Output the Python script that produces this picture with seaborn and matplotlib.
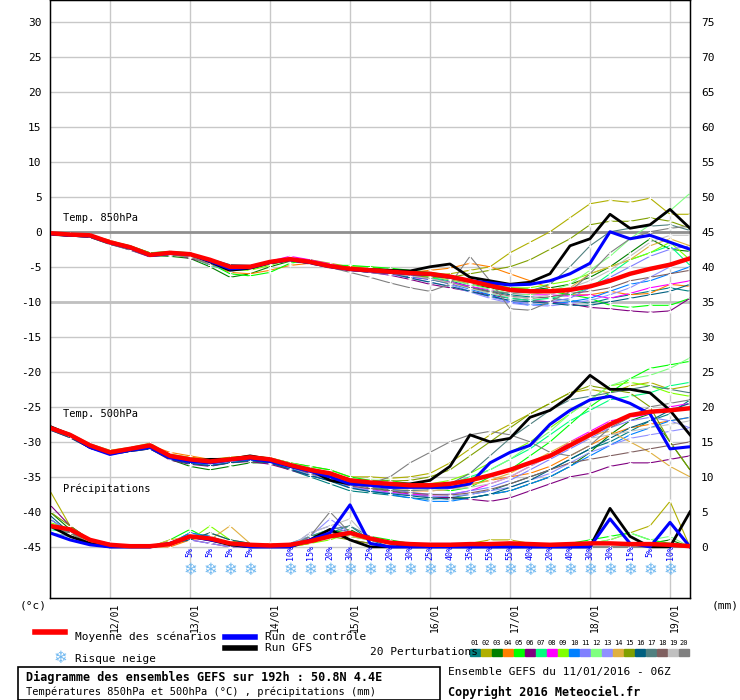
import numpy as np
import pandas as pd
import matplotlib
matplotlib.use("Agg")
import matplotlib.pyplot as plt
import seaborn as sns

hours = list(range(0, 193, 6))
day_labels = ["12/01", "13/01", "14/01", "15/01", "16/01", "17/01", "18/01", "19/01"]
day_hours = [18, 42, 66, 90, 114, 138, 162, 186]

t850_mean = [-0.2,-0.4,-0.5,-1.5,-2.2,-3.3,-3,-3.2,-4,-5,-5,-4.3,-3.9,-4.3,-4.9,-5.3,-5.5,-5.7,-5.9,-6,-6.4,-7,-7.7,-8.3,-8.5,-8.5,-8.3,-7.8,-7,-6,-5.3,-4.7,-3.8]
t850_ctrl = [-0.3,-0.5,-0.6,-1.6,-2.3,-3.4,-3.1,-3.2,-4.2,-5.3,-5.1,-4.4,-4.0,-4.4,-5.0,-5.4,-5.6,-5.8,-6.0,-6.1,-6.5,-7.0,-7.3,-7.6,-7.5,-7.0,-6.0,-4.5,0.0,-1.0,-0.5,-1.5,-2.5]
t850_gfs = [-0.3,-0.5,-0.6,-1.5,-2.3,-3.3,-3.0,-3.2,-4.3,-5.5,-5.2,-4.4,-4.0,-4.4,-4.9,-5.3,-5.4,-5.5,-5.6,-5.0,-4.6,-6.5,-7.0,-7.5,-7.2,-6.0,-2.0,-1.0,2.5,0.5,1.0,3.2,0.5]

t850_pert = [
    [-0.3,-0.5,-0.6,-1.6,-2.4,-3.5,-3.2,-3.0,-4.2,-5.5,-5.2,-4.5,-4.0,-4.6,-5.0,-5.5,-5.8,-6.0,-6.4,-6.5,-7.0,-7.8,-8.5,-9.0,-9.3,-9.5,-9.8,-10.2,-9.5,-9.0,-8.5,-8.0,-8.5],
    [-0.2,-0.3,-0.5,-1.4,-2.0,-3.0,-3.3,-3.5,-4.0,-4.8,-5.2,-4.5,-3.8,-4.0,-4.5,-5.0,-5.0,-5.5,-5.8,-6.2,-6.0,-5.5,-5.0,-3.0,-1.5,0.0,2.0,4.0,4.5,4.2,4.8,2.5,2.5],
    [-0.5,-0.6,-0.8,-1.8,-2.5,-3.4,-3.5,-3.8,-5.0,-6.5,-6.0,-5.0,-4.2,-4.5,-5.0,-5.5,-5.6,-5.8,-6.0,-6.3,-6.8,-7.5,-8.0,-8.5,-8.3,-8.0,-7.5,-6.5,-5.0,-3.0,-1.0,-2.5,-2.8],
    [-0.3,-0.4,-0.5,-1.2,-2.2,-3.2,-3.0,-3.3,-4.5,-5.8,-6.0,-5.5,-4.8,-4.5,-5.2,-5.0,-5.3,-5.5,-5.8,-5.5,-5.2,-4.5,-5.0,-6.0,-7.0,-8.0,-9.0,-9.0,-8.5,-9.0,-8.8,-7.5,-7.8],
    [-0.1,-0.3,-0.4,-1.3,-2.0,-3.0,-2.8,-3.0,-4.5,-6.0,-6.3,-5.8,-4.5,-4.0,-4.8,-4.8,-5.0,-5.2,-5.5,-5.8,-6.2,-7.0,-7.5,-8.0,-8.2,-8.5,-9.0,-9.5,-10.5,-10.8,-10.5,-10.5,-9.5],
    [-0.4,-0.6,-0.8,-1.7,-2.6,-3.6,-3.0,-3.8,-4.5,-5.2,-5.0,-4.4,-4.0,-4.5,-5.0,-5.5,-5.8,-6.2,-6.8,-7.5,-8.0,-8.5,-9.0,-9.5,-9.8,-10.0,-10.3,-10.8,-11.0,-11.3,-11.5,-11.3,-9.5],
    [-0.2,-0.4,-0.6,-1.5,-2.3,-3.3,-3.1,-3.5,-4.8,-5.5,-5.4,-4.6,-4.1,-4.5,-5.0,-5.2,-5.5,-5.8,-6.0,-6.5,-7.2,-8.0,-8.8,-9.5,-9.8,-9.5,-9.0,-8.0,-6.0,-4.0,-3.0,-2.0,-4.8],
    [-0.3,-0.5,-0.7,-1.6,-2.4,-3.3,-3.0,-3.0,-4.3,-5.2,-5.0,-4.2,-3.5,-4.0,-4.6,-5.2,-5.5,-6.0,-6.5,-6.8,-7.2,-7.8,-8.3,-8.8,-9.0,-9.0,-9.2,-9.0,-9.5,-8.8,-8.0,-7.5,-7.0],
    [-0.2,-0.4,-0.5,-1.4,-2.2,-3.2,-3.0,-3.4,-4.6,-5.4,-5.5,-4.8,-3.9,-4.4,-4.8,-5.3,-5.5,-5.7,-6.0,-6.2,-6.6,-7.2,-7.6,-8.0,-8.0,-7.5,-7.0,-6.0,-5.0,-4.0,-3.0,-1.5,-4.0],
    [-0.3,-0.5,-0.6,-1.5,-2.3,-3.4,-3.1,-3.3,-4.5,-5.6,-5.3,-4.5,-4.0,-4.4,-4.9,-5.4,-5.7,-6.0,-6.4,-6.8,-7.4,-8.2,-9.0,-10.0,-10.5,-10.3,-10.0,-9.5,-8.5,-7.5,-7.0,-6.0,-5.0],
    [-0.3,-0.5,-0.6,-1.5,-2.4,-3.4,-3.1,-3.4,-4.4,-5.3,-5.1,-4.3,-3.9,-4.3,-4.8,-5.3,-5.6,-5.9,-6.3,-6.7,-7.5,-8.5,-9.3,-10.0,-10.2,-10.0,-9.5,-8.0,-6.5,-5.0,-3.5,-2.5,-2.0],
    [-0.2,-0.4,-0.5,-1.4,-2.1,-3.1,-2.9,-3.3,-4.5,-5.3,-5.2,-4.5,-4.0,-4.4,-4.9,-5.4,-5.6,-5.8,-6.1,-6.4,-6.9,-7.5,-8.2,-8.8,-9.0,-8.5,-7.5,-5.5,-3.5,-1.0,1.0,3.0,5.5],
    [-0.4,-0.5,-0.7,-1.6,-2.5,-3.5,-3.2,-3.5,-4.7,-5.4,-5.2,-4.4,-4.0,-4.5,-5.0,-5.5,-5.8,-6.1,-6.6,-7.2,-7.8,-8.6,-9.5,-10.2,-10.5,-10.6,-10.2,-9.8,-9.0,-8.0,-6.5,-5.0,-3.5],
    [-0.3,-0.5,-0.6,-1.5,-2.4,-3.2,-3.3,-3.6,-4.6,-5.3,-5.2,-4.5,-4.2,-4.4,-4.9,-5.3,-5.5,-5.7,-6.0,-6.3,-6.8,-7.3,-7.8,-8.3,-8.5,-8.3,-8.0,-6.0,-5.0,-4.0,-2.0,-1.0,-2.0],
    [-0.3,-0.4,-0.6,-1.5,-2.3,-3.3,-3.0,-3.4,-4.5,-5.3,-5.3,-4.6,-4.1,-4.5,-5.0,-5.3,-5.6,-5.8,-6.2,-6.5,-6.5,-6.0,-5.5,-5.0,-4.0,-2.5,-1.0,1.0,1.5,1.5,2.0,1.5,0.5],
    [-0.4,-0.6,-0.7,-1.7,-2.5,-3.5,-3.3,-3.2,-3.9,-4.7,-4.8,-4.3,-3.8,-4.3,-5.0,-5.2,-5.5,-5.9,-6.6,-7.2,-7.8,-8.5,-9.2,-9.8,-10.0,-10.2,-10.5,-10.5,-10.0,-9.5,-9.0,-8.5,-7.5],
    [-0.3,-0.5,-0.7,-1.6,-2.4,-3.4,-3.2,-3.4,-4.5,-5.3,-5.1,-4.4,-4.0,-4.5,-4.9,-5.3,-5.6,-5.9,-6.2,-6.8,-7.4,-8.0,-8.5,-8.8,-8.5,-7.5,-5.0,-2.0,0.0,0.5,0.8,1.0,0.2],
    [-0.3,-0.5,-0.6,-1.5,-2.4,-3.3,-3.1,-3.5,-4.5,-5.3,-5.2,-4.5,-4.0,-4.5,-5.0,-5.5,-5.8,-6.0,-6.3,-6.7,-7.3,-8.0,-8.6,-9.2,-9.5,-9.3,-8.8,-8.5,-8.0,-7.0,-6.5,-6.0,-5.5],
    [-0.2,-0.4,-0.5,-1.4,-2.3,-3.2,-3.0,-3.4,-4.5,-5.2,-5.0,-4.3,-3.9,-4.4,-4.9,-5.3,-5.6,-5.9,-6.3,-6.7,-7.3,-8.1,-8.8,-9.3,-9.5,-9.0,-8.0,-7.0,-5.5,-3.5,-1.5,-0.5,-0.5],
    [-0.4,-0.6,-0.8,-1.8,-2.6,-3.5,-3.3,-3.6,-4.7,-5.4,-5.2,-4.4,-4.1,-4.6,-5.1,-5.8,-6.5,-7.3,-8.0,-8.5,-7.5,-3.5,-7.0,-11.0,-11.2,-10.0,-8.5,-6.0,-3.0,-1.0,0.0,0.5,0.8],
]

t500_mean = [-28,-29,-30.5,-31.5,-31,-30.5,-32,-32.5,-32.8,-32.5,-32.2,-32.5,-33.3,-34,-34.5,-35.5,-35.8,-36,-36.2,-36.2,-36,-35.5,-34.8,-34,-33,-32,-30.5,-29,-27.5,-26.2,-25.7,-25.5,-25.2]
t500_ctrl = [-28,-29,-30.8,-31.8,-31.2,-30.8,-32.3,-32.8,-33,-32.6,-32.4,-32.8,-33.5,-34.2,-35,-36,-36.2,-36.5,-36.5,-36.5,-36.5,-36,-33,-31.5,-30.5,-27.5,-25.5,-24,-23.5,-24.5,-26,-31,-30.7]
t500_gfs = [-27.8,-29,-30.8,-31.5,-31.2,-30.5,-32,-32.8,-32.5,-32.5,-32,-32.5,-33.5,-34,-35.5,-36,-36,-36,-36,-35.5,-33.5,-29,-30,-29.5,-26.5,-25.5,-23.5,-20.5,-22.5,-22.5,-23,-25.5,-29]

t500_pert = [
    [-28.2,-29.3,-30.8,-31.6,-31.3,-31,-32.4,-33,-33.4,-33,-32.6,-33,-34,-35,-36,-37,-37.3,-37.6,-38,-38.2,-38,-37.5,-37,-36,-35,-34,-32.5,-31,-30,-28.5,-27,-26,-24],
    [-27.8,-28.8,-30.3,-31.2,-30.8,-30.2,-31.8,-32.2,-32.5,-32.2,-32,-32.3,-33,-33.5,-34,-35,-35,-35.2,-35,-34.5,-33,-31,-29,-27.5,-26,-24.5,-23,-22.5,-23,-22,-21.5,-22.5,-22],
    [-28,-29.2,-30.6,-31.6,-31.2,-30.6,-32.5,-33.5,-34,-33.5,-33,-33,-33.8,-34.5,-35,-36,-36.5,-37,-37.5,-37.8,-38,-38,-37.5,-37,-36,-35,-33.5,-31.5,-29,-27,-26,-30,-34],
    [-28.1,-29,-30.5,-31.5,-31,-30.5,-31.5,-32,-32.5,-32.5,-32.5,-32.8,-33.5,-34.3,-35,-36,-36.5,-36.8,-37,-37,-36.8,-36,-35.5,-35,-34.5,-33.5,-32,-30.5,-29,-28,-27.5,-27,-26.5],
    [-27.9,-28.9,-30.4,-31.4,-30.9,-30.4,-32,-32.5,-32.8,-32.6,-32.2,-32.4,-33,-33.5,-34,-35,-35.5,-35.5,-36,-36.5,-37,-36.5,-35,-34,-32,-30,-27.5,-25,-23,-21,-19.5,-19,-18.5],
    [-28.3,-29.4,-30.9,-31.8,-31.4,-31,-32.6,-33.2,-33.5,-33,-32.8,-33.2,-34,-34.8,-35.5,-36.5,-37,-37.3,-37.5,-37.8,-38,-38.2,-38.5,-38,-37,-36,-35,-34.5,-33.5,-33,-33,-32.5,-32],
    [-28,-29,-30.5,-31.5,-31,-30.5,-32,-32.5,-32.8,-32.4,-32,-32.4,-33.2,-34,-34.8,-35.8,-36,-36.2,-36.5,-36.5,-36,-35,-34,-32.5,-31,-29,-27,-25.5,-24,-23.5,-23,-22,-21.5],
    [-28.2,-29.2,-30.7,-31.6,-31.1,-30.6,-32.2,-32.8,-33.2,-32.8,-32.4,-32.8,-33.6,-34.5,-35.2,-36.2,-36.8,-37.2,-37.5,-37.6,-37.5,-37,-36,-35,-33.5,-32,-30,-28.5,-27,-26.5,-26,-25,-24.5],
    [-27.9,-28.9,-30.4,-31.4,-31,-30.5,-31.8,-32.3,-32.6,-32.3,-32,-32.3,-33,-33.8,-34.5,-35.5,-35.8,-36,-36.2,-36,-35.5,-34.5,-33,-31.5,-30,-28,-26,-24,-22,-21.5,-22,-23,-23.5],
    [-28.1,-29.1,-30.6,-31.6,-31.2,-30.8,-32.4,-33,-33.3,-33,-32.6,-32.9,-33.8,-34.8,-35.5,-36.5,-37,-37.5,-38,-38.5,-38.5,-38,-37.5,-37,-36,-35,-33.5,-32,-30.5,-29,-28,-27,-26.5],
    [-28,-29,-30.5,-31.5,-31.1,-30.7,-32.2,-32.8,-33,-32.7,-32.3,-32.7,-33.5,-34.3,-35,-36,-36.4,-36.8,-37.2,-37.5,-37.5,-37,-36.5,-35.5,-34,-32.5,-31,-29.5,-28,-27,-26.5,-27,-28],
    [-27.8,-28.8,-30.3,-31.3,-30.9,-30.4,-31.9,-32.4,-32.7,-32.4,-32,-32.3,-33,-33.7,-34.4,-35.4,-35.6,-35.8,-36,-36,-35.8,-35.2,-34,-32.5,-30.5,-28.5,-26,-24,-22,-21,-20.5,-19.5,-18],
    [-28.2,-29.3,-30.8,-31.7,-31.2,-30.8,-32.3,-32.9,-33.2,-32.8,-32.5,-32.8,-33.7,-34.6,-35.4,-36.4,-36.9,-37.3,-37.6,-37.8,-37.8,-37.5,-37,-36.5,-35.5,-34.5,-33,-31.5,-30.5,-29.5,-29,-28.5,-28],
    [-28,-29.1,-30.6,-31.5,-31,-30.6,-32.1,-32.6,-32.9,-32.5,-32.2,-32.6,-33.4,-34.2,-34.9,-35.9,-36.2,-36.5,-36.8,-37,-36.8,-36.2,-35.5,-34.5,-33,-31.5,-30,-29,-28.5,-30,-31.5,-33.5,-35],
    [-27.9,-29,-30.5,-31.4,-31,-30.5,-32,-32.4,-32.6,-32.3,-32,-32.4,-33.2,-33.8,-34.5,-35.3,-35.5,-35.6,-35.5,-35,-34,-32,-30,-28,-26,-24.5,-23,-22,-22.5,-23,-25,-30,-34],
    [-28.3,-29.4,-30.9,-31.8,-31.4,-31,-32.5,-33.1,-33.4,-33,-32.7,-33,-33.9,-34.8,-35.6,-36.6,-37.1,-37.4,-37.7,-38,-38.2,-38,-37.5,-36.5,-35.5,-34,-32.5,-31,-29.5,-28,-27,-25.5,-24.5],
    [-28.1,-29.1,-30.6,-31.5,-31.1,-30.6,-32.1,-32.7,-33,-32.6,-32.3,-32.7,-33.5,-34.4,-35.1,-36.1,-36.5,-36.8,-37,-36.8,-36,-34.5,-32,-29.5,-27.5,-25.5,-24,-23.5,-23,-22.5,-22,-22.5,-23],
    [-28.2,-29.2,-30.7,-31.6,-31.2,-30.7,-32.2,-32.8,-33.1,-32.7,-32.4,-32.8,-33.6,-34.5,-35.3,-36.3,-36.7,-37,-37.3,-37.5,-37.6,-37.3,-36.8,-36,-35,-34,-33,-32.5,-32,-31.5,-31,-30.5,-30],
    [-28,-29,-30.5,-31.5,-31,-30.5,-32,-32.5,-32.8,-32.5,-32.2,-32.6,-33.4,-34.1,-34.8,-35.8,-36.2,-36.5,-36.8,-36.9,-36.8,-36.5,-36,-35,-33.5,-32,-30.5,-29.5,-29,-28.5,-28,-27.5,-27],
    [-28.1,-29.1,-30.6,-31.6,-31.1,-30.6,-32.1,-32.7,-33,-32.6,-32.3,-32.7,-33.5,-34.3,-35,-36,-36,-35,-33,-31.5,-30,-29,-28.5,-29,-30,-31.5,-32,-30.5,-28,-26.5,-25,-24.5,-24],
]

# précipitations (mm, axe de droite)
pr_mean = [3,2.5,1,0.3,0.1,0.1,0.4,1.5,1.2,0.5,0.3,0.2,0.3,0.8,1.5,2,1.2,0.6,0.4,0.3,0.3,0.4,0.4,0.5,0.4,0.3,0.4,0.5,0.5,0.4,0.4,0.3,0.1]
pr_ctrl = [2,1,0.3,0,0,0,0.5,1.5,1,0.5,0,0,0,1,2,6,0.5,0,0,0,0,0,0,0,0,0,0,0,4,0.5,0,3.5,0]
pr_gfs = [3,1.5,0.5,0,0,0,0.5,1.5,1,0.3,0,0,0,1,2.5,1,0,0,0,0,0,0,0,0,0,0,0,0,5.5,1.5,0,0,5]

pr_pert = [
    [4,2,0.5,0,0,0,0.5,2,1.5,0.5,0,0,0,1,2,3,1,0,0,0,0,0,0,0,0,0,0,0,0,0,0,0,0],
    [8,3,1,0.5,0,0,0.3,1,2,1,0.5,0,0,0.5,1.5,2,1,0.5,0.5,0,0,0.5,1,1,0.5,0,0,0.5,1,2,3,6.5,0],
    [5,2.5,1,0,0,0,0.5,1.5,1,0.5,0,0,0,1.5,2,2.5,1,0.5,0,0,0,0,0,0,0,0,0,0,0,0,0.5,1,0],
    [3,2,0.5,0,0,0,0,1,1.5,0.5,0,0.5,0,0.5,1.5,2,1,0.5,0,0,0,0,0,0,0,0,0,0,0,0,0,0,0],
    [2,1.5,0.5,0,0,0,1,2.5,1,0.5,0,0,0,1,2,2,1.5,1,0.5,0,0,0,0,0,0,0,0.5,1,1.5,2,1,0.5,0],
    [6,3,1,0,0,0,0.5,1,0.5,0,0,0,0,1,2,1,0.5,0,0,0,0,0,0,0,0,0,0,0,0,0,0,0,0],
    [2.5,2,0.5,0,0,0,0.5,1.5,1,0.5,0,0,0.5,1.5,2.5,1.5,1,0.5,0,0,0,0,0,0,0,0,0,0,0,0,0,0,0],
    [3,2,1,0.5,0,0,0.5,1.5,1,0.5,0,0,0,1,2,2,1.5,0.5,0,0,0,0,0,0,0,0,0,0,0,0,0,0,0],
    [3.5,2.5,1,0,0,0,0.5,1,3,1,0,0,0,0.5,1,2,1,0.5,0,0,0,0,0,0,0,0,0,0,0,0,0,0,0],
    [2,1,0.5,0,0,0,0.5,2,1.5,0.5,0,0,0,1,1.5,2,1,0.5,0,0,0,0,0,0,0,0,0,0,0,0,0,0,0],
    [4,2,1,0.5,0,0,0.5,1.5,1,0.5,0,0,0,2,3,2,1,0.5,0.5,0.5,0.5,0.5,0.5,0,0,0,0,0,0,0,0,0,0],
    [3,2,0.5,0,0,0,0.5,1.5,1,0.5,0,0,0,1,2,1.5,1,0.5,0,0,0,0,0,0,0,0,0,0.5,1,2,1,1.5,0],
    [2,1.5,0.5,0,0,0,0.5,1,0.5,0,0,0,0.5,1.5,4,2,1,0.5,0,0,0,0,0,0,0,0,0,0,0,0,0,0,0],
    [3,2,0.5,0,0,0,1,1.5,1,3,0.5,0,0,1,2,1.5,1,0.5,0,0,0,0,0,0,0,0,0,0,0,0,0,0,0],
    [5,3,1,0,0,0,0.5,1.5,1,0.5,0,0,0,1,1.5,1,0.5,0,0,0,0,0,0,0,0,0,0,0,0,0,0,0,0],
    [4.5,2,1,0,0,0,0.5,1,2,1,0.5,0,0,1,2,2,1,0.5,0,0,0,0,0,0,0,0,0,0,0,0,0,0,0],
    [3,2,1,0,0,0,0.5,1.5,1,0.5,0,0,0,1.5,2.5,3,1.5,0.5,0,0,0,0,0,0,0,0,0,0,0,0,0,0,0],
    [3,1.5,0.5,0,0,0,0.5,1.5,1,0.5,0,0,0,1,2,2,1,0.5,0,0,0,0,0,0,0,0,0,0,0,0,0,0,0],
    [2,1,0.5,0,0,0,0.5,1.5,1,0.5,0,0,0,2,3,4,1,0.5,0,0,0,0,0,0,0,0,0,0,0,0,0,0,0],
    [3,2,0.5,0,0,0,0.5,1.5,1,0.5,0,0,0,1.5,5,2,1,0.5,0,0,0,0,0,0,0,0,0,0,0,0,0,0,0],
]

snow_hours = [42, 48, 54, 60, 72, 78, 84, 90, 96, 102, 108, 114, 120, 126, 132, 138, 144, 150, 156, 162, 168, 174, 180, 186]
snow_pct = [5, 5, 5, 5, 10, 15, 20, 30, 25, 20, 30, 25, 40, 35, 55, 55, 40, 20, 40, 30, 30, 15, 5, 10]

pert_colors = ["#008080", "#b0b000", "#008000", "#ff8000", "#00ff00", "#800080", "#00ff80",
               "#ff00ff", "#80ff00", "#0080ff", "#8080ff", "#80ff80", "#9090ff", "#e0b040",
               "#80a000", "#006080", "#508080", "#806060", "#c0c0c0", "#808080"]
members = [f"{i:02d}" for i in range(1, 21)]

PR_OFFSET = -45  # 0 mm = -45 sur l'axe de gauche

rows = []
for m, a, b, c in zip(members, t850_pert, t500_pert, pr_pert):
    for h, v1, v2, v3 in zip(hours, a, b, c):
        rows.append((m, h, "t850", v1))
        rows.append((m, h, "t500", v2))
        rows.append((m, h, "pr", v3 + PR_OFFSET))
df = pd.DataFrame(rows, columns=["member", "hour", "var", "val"])

mono = "DejaVu Sans Mono"
fig = plt.figure(figsize=(7.4, 7.0), dpi=100)
W, H = 740, 700
ax = fig.add_axes([50 / W, 1 - 598 / H, 640 / W, 598 / H])

def px(x, y):
    return x / W, 1 - y / H

# grille
for d in day_hours:
    ax.axvline(d, color="#c8c8c8", lw=1, zorder=0)
for v in range(30, -50, -5):
    ax.axhline(v, color="#c8c8c8", lw=1, zorder=0)
ax.axhline(0, color="#909090", lw=2, zorder=0)
ax.axhline(-10, color="#c0c0c0", lw=2, zorder=0)

palette = dict(zip(members, pert_colors))
for var in ["pr", "t500", "t850"]:
    sns.lineplot(data=df[df["var"] == var], x="hour", y="val", hue="member", palette=palette,
                 estimator=None, lw=0.8, marker="+", markersize=3, markeredgewidth=0.6,
                 legend=False, ax=ax, zorder=2)

for mean, ctrl, gfs, off in [(t850_mean, t850_ctrl, t850_gfs, 0), (t500_mean, t500_ctrl, t500_gfs, 0),
                             (pr_mean, pr_ctrl, pr_gfs, PR_OFFSET)]:
    sns.lineplot(x=hours, y=np.array(gfs) + off, color="black", lw=2, ax=ax, zorder=3)
    sns.lineplot(x=hours, y=np.array(ctrl) + off, color="#0000ff", lw=2.2, ax=ax, zorder=4)
    sns.lineplot(x=hours, y=np.array(mean) + off, color="#ff0000", lw=3.2, ax=ax, zorder=5)

# risque neige
for h, p in zip(snow_hours, snow_pct):
    ax.text(h, -48.3, "❄", color="#70b8f0", ha="center", va="center", fontsize=12, family="DejaVu Sans")
    ax.text(h, -45.8, f"{p}%", color="#0000ff", ha="center", va="center", rotation=90,
            fontsize=6, family=mono)

ax.set_xlim(0, 192)
ax.set_ylim(-52.3, 33.1)
ax.set_xlabel("")
ax.set_ylabel("")
ax.set_yticks(range(-45, 31, 5))
ax.set_yticklabels([str(v) for v in range(-45, 31, 5)], family=mono, fontsize=8)
ax.set_xticks(day_hours)
ax.set_xticklabels(day_labels, rotation=90, family=mono, fontsize=7, ha="left")
ax.tick_params(axis="y", length=0, pad=6)
ax.tick_params(axis="x", length=0, pad=3)
for s in ax.spines.values():
    s.set_color("black")
    s.set_linewidth(1)
ax.set_facecolor("white")

ax2 = ax.twinx()
ax2.set_ylim(-52.3 + 45, 33.1 + 45)
ax2.set_yticks(range(0, 76, 5))
ax2.set_yticklabels([str(v) for v in range(0, 76, 5)], family=mono, fontsize=8)
ax2.tick_params(length=0, pad=8)

ax.text(4, 1.5, "Temp. 850hPa", family=mono, fontsize=7.5)
ax.text(4, -26.5, "Temp. 500hPa", family=mono, fontsize=7.5)
ax.text(4, -37.2, "Précipitations", family=mono, fontsize=7.5)

fig.text(*px(20, 606), "(°c)", family=mono, fontsize=8, va="center")
fig.text(*px(712, 606), "(mm)", family=mono, fontsize=8, va="center")

# légende
fig.add_artist(plt.Line2D([35 / W, 65 / W], [1 - 632 / H] * 2, color="#ff0000", lw=4))
fig.text(*px(75, 637), "Moyenne des scénarios", family=mono, fontsize=8, va="center")
fig.add_artist(plt.Line2D([225 / W, 255 / W], [1 - 637 / H] * 2, color="#0000ff", lw=4))
fig.text(*px(265, 637), "Run de contrôle", family=mono, fontsize=8, va="center")
fig.add_artist(plt.Line2D([225 / W, 255 / W], [1 - 648 / H] * 2, color="black", lw=4))
fig.text(*px(265, 648), "Run GFS", family=mono, fontsize=8, va="center")
fig.text(*px(60, 658), "❄", color="#70b8f0", fontsize=12, ha="center", va="center", family="DejaVu Sans")
fig.text(*px(75, 659), "Risque neige", family=mono, fontsize=8, va="center")
fig.text(*px(370, 652), "20 Perturbations", family=mono, fontsize=8, va="center")
for i, (m, c) in enumerate(zip(members, pert_colors)):
    x0 = 470 + i * 11
    fig.add_artist(plt.Rectangle((x0 / W, 1 - 656 / H), 10 / W, 7 / H, color=c, transform=fig.transFigure))
    fig.text(*px(x0 + 5, 643), m, family=mono, fontsize=5, ha="center", va="center")

fig.add_artist(plt.Rectangle((18 / W, 1 - 700 / H), 422 / W, 33 / H, fill=False, ec="black", lw=1.2,
                             transform=fig.transFigure))
fig.text(*px(26, 677), "Diagramme des ensembles GEFS sur 192h : 50.8N 4.4E", family=mono,
         fontsize=8.5, weight="bold", va="center")
fig.text(*px(26, 692), "Températures 850hPa et 500hPa (°C) , précipitations (mm)", family=mono,
         fontsize=7.5, va="center")
fig.text(*px(448, 672), "Ensemble GEFS du 11/01/2016 - 06Z", family=mono, fontsize=8, va="center")
fig.text(*px(448, 692), "Copyright 2016 Meteociel.fr", family=mono, fontsize=8.5, weight="bold", va="center")

fig.savefig("out.png", dpi=100, facecolor="white")
